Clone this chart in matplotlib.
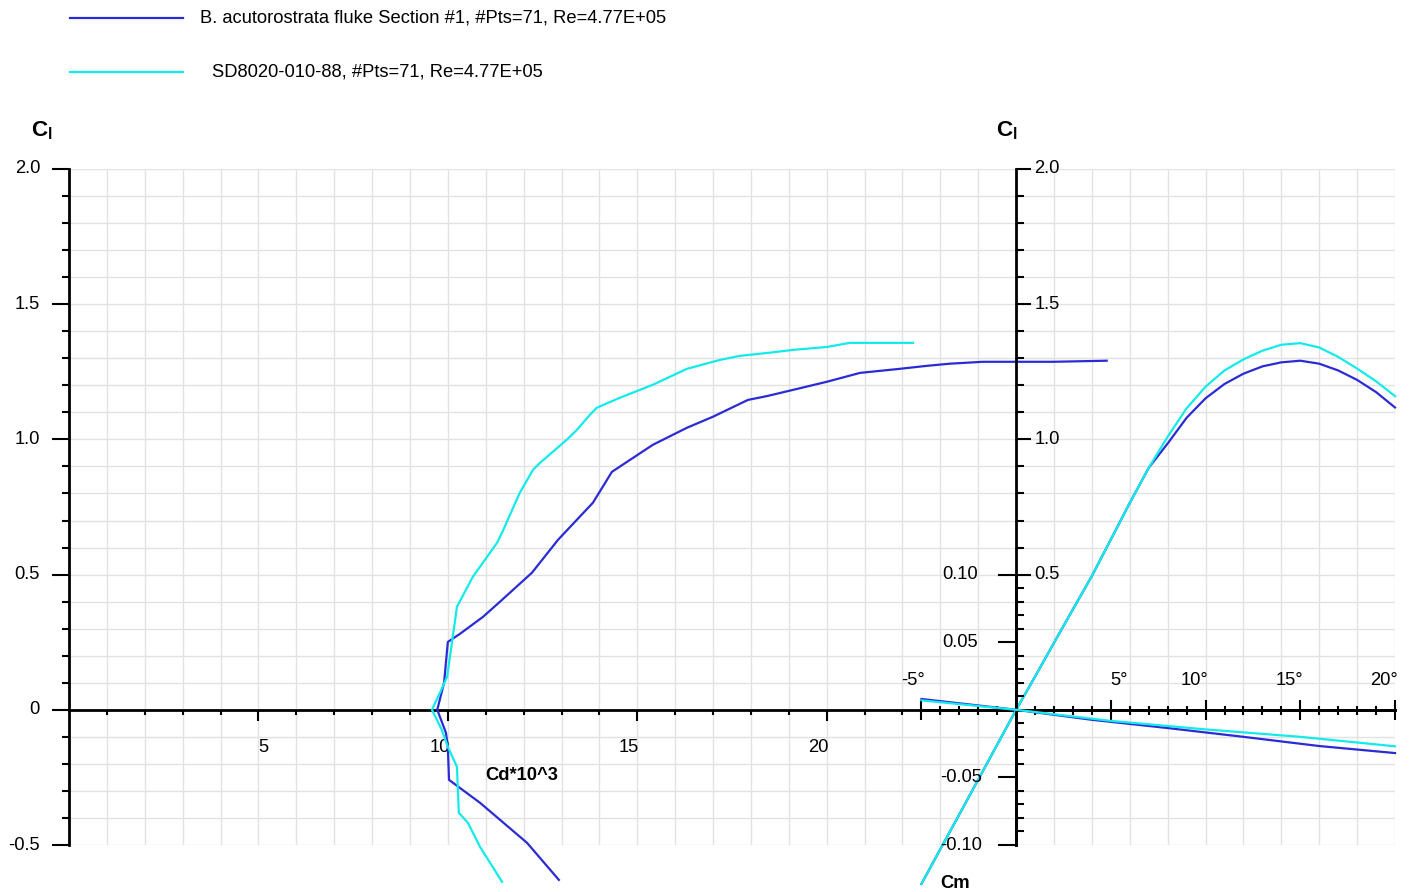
import numpy as np
import matplotlib
matplotlib.use('Agg')
import matplotlib.pyplot as plt
from matplotlib import font_manager
from matplotlib.lines import Line2D

# =============================================================================
# DATA
# =============================================================================
name_blue = 'B. acutorostrata fluke Section #1, #Pts=71, Re=4.77E+05'
name_cyan = 'SD8020-010-88, #Pts=71, Re=4.77E+05'

# polar Cl vs Cd*10^3
cd_blue = [12.93, 12.09, 10.85, 10.03, 10.00, 9.95, 9.72, 9.90, 10.00, 10.32, 10.93,
           11.37, 12.22, 12.91, 13.83, 14.33, 15.41, 16.31, 17.00, 17.92, 18.45,
           20.00, 20.88, 21.93, 22.64, 23.25, 24.12, 25.02, 25.97, 27.39]
cl_blue_p = [-0.629, -0.492, -0.344, -0.259, -0.137, -0.085, 0.0, 0.100, 0.251, 0.281, 0.344,
             0.399, 0.507, 0.629, 0.766, 0.880, 0.980, 1.043, 1.084, 1.146, 1.161,
             1.213, 1.246, 1.261, 1.272, 1.280, 1.287, 1.287, 1.287, 1.291]

cd_cyan = [11.43, 10.85, 10.53, 10.29, 10.24, 10.00, 9.84, 9.58, 9.79, 9.98, 10.13,
           10.24, 10.66, 11.30, 11.43, 11.90, 12.25, 12.43, 13.14, 13.41, 13.75,
           13.93, 14.54, 15.41, 16.31, 17.18, 17.71, 18.45, 19.11, 20.01, 20.61, 22.28]
cl_cyan_p = [-0.636, -0.507, -0.418, -0.381, -0.211, -0.137, -0.074, 0.0, 0.063, 0.122, 0.270,
             0.381, 0.492, 0.618, 0.655, 0.803, 0.888, 0.913, 0.999, 1.036, 1.091,
             1.117, 1.154, 1.202, 1.261, 1.294, 1.309, 1.320, 1.331, 1.342, 1.357, 1.357]

# Cl vs alpha
alpha = [-5, -4, -3, -2, -1, 0, 1, 2, 3, 4, 5, 6, 7, 8, 9, 10, 11, 12, 13, 14, 15, 16, 17, 18, 19, 20]
cl_blue = [-0.644, -0.515, -0.387, -0.258, -0.129, 0.0, 0.123, 0.248, 0.372, 0.495, 0.630,
           0.765, 0.895, 0.985, 1.080, 1.152, 1.205, 1.243, 1.270, 1.285, 1.291, 1.280,
           1.255, 1.220, 1.175, 1.118]
cl_cyan = [-0.644, -0.515, -0.387, -0.258, -0.129, 0.0, 0.123, 0.248, 0.372, 0.495, 0.630,
           0.765, 0.895, 1.010, 1.115, 1.195, 1.255, 1.296, 1.328, 1.350, 1.356, 1.340,
           1.305, 1.262, 1.215, 1.160]

# Cm vs alpha
alpha_cm_blue = [-5, 0, 4, 8, 12, 16, 20]
cm_blue = [0.008, 0.0, -0.0074, -0.0135, -0.0200, -0.0268, -0.0320]
alpha_cm_cyan = [-5, 0, 5, 10, 15, 20]
cm_cyan = [0.007, 0.0, -0.0082, -0.0145, -0.0200, -0.0270]

cl_ticks = [-0.5, 0, 0.5, 1.0, 1.5, 2.0]
cl_tick_labels = ['-0.5', '0', '0.5', '1.0', '1.5', '2.0']
cd_ticks = [5, 10, 15, 20]
alpha_ticks = [-5, 5, 10, 15, 20]
cm_ticks = [0.10, 0.05, -0.05, -0.10]
cm_tick_labels = ['0.10', '0.05', '-0.05', '-0.10']

# =============================================================================
# STYLE
# =============================================================================
W, H = 1415, 892
BLUE = '#2b2bd6'
CYAN = '#14eaea'
GRID = '#e2e2e2'
AX_LW = 2.0
TK_W = 1.5

names = {f.name for f in font_manager.fontManager.ttflist}
if 'Liberation Sans Narrow' in names:
    FONT, FS = 'Liberation Sans Narrow', 16
else:
    FONT, FS = 'Liberation Sans', 13.2
plt.rcParams['font.family'] = [FONT, 'DejaVu Sans']
plt.rcParams['mathtext.fontset'] = 'custom'
plt.rcParams['mathtext.rm'] = FONT
plt.rcParams['mathtext.bf'] = FONT + ':bold'

def pt(px):
    return px * 72.0 / 100.0

fig = plt.figure(figsize=(W / 100, H / 100), dpi=100)
pos = [69 / W, (H - 845) / H, (1395 - 69) / W, (845 - 169) / H]

ax = fig.add_axes(pos)      # Cl vs Cd
ax_a = fig.add_axes(pos)    # Cl vs alpha
ax_m = fig.add_axes(pos)    # Cm vs alpha
for a in (ax_a, ax_m):
    a.patch.set_visible(False)

ax.set_xlim(0, 35)
ax.set_ylim(-0.5, 2.0)
ax_a.set_xlim(-50, 20)
ax_a.set_ylim(-0.5, 2.0)
ax_m.set_xlim(-50, 20)
ax_m.set_ylim(-0.1, 0.4)

# grid
for x in np.arange(1, 36):
    ax.axvline(x, color=GRID, lw=1, zorder=0)
for y in np.arange(-0.5, 2.001, 0.1):
    ax.axhline(y, color=GRID, lw=1, zorder=0)

for a in (ax, ax_a, ax_m):
    for s in a.spines.values():
        s.set_visible(False)
    a.tick_params(which='both', labelleft=False, labelbottom=False, width=TK_W, color='black')

# left Cl axis + Cd axis
ax.spines['left'].set_visible(True)
ax.spines['left'].set_linewidth(AX_LW)
ax.spines['bottom'].set_visible(True)
ax.spines['bottom'].set_position(('data', 0))
ax.spines['bottom'].set_linewidth(AX_LW)
ax.set_yticks(cl_ticks)
ax.set_yticks(np.arange(-0.5, 2.001, 0.1), minor=True)
ax.set_xticks(cd_ticks)
ax.set_xticks(np.arange(1, 26), minor=True)
ax.tick_params(axis='y', which='major', direction='out', length=pt(17))
ax.tick_params(axis='y', which='minor', direction='out', length=pt(7))
ax.tick_params(axis='x', which='major', direction='out', length=pt(11))
ax.tick_params(axis='x', which='minor', direction='out', length=pt(5))

# right Cl axis + alpha axis
ax_a.spines['left'].set_visible(True)
ax_a.spines['left'].set_position(('data', 0))
ax_a.spines['left'].set_linewidth(AX_LW)
ax_a.spines['bottom'].set_visible(True)
ax_a.spines['bottom'].set_position(('data', 0))
ax_a.spines['bottom'].set_bounds(-5, 20)
ax_a.spines['bottom'].set_linewidth(AX_LW)
ax_a.set_yticks([0.5, 1.0, 1.5, 2.0])
ax_a.set_yticks([v for v in np.arange(0.6, 2.0, 0.1) if abs(v * 2 - round(v * 2)) > 1e-6], minor=True)
ax_a.set_xticks(alpha_ticks)
ax_a.set_xticks(np.arange(-5, 21), minor=True)
ax_a.tick_params(axis='y', which='major', direction='in', length=pt(15))
ax_a.tick_params(axis='y', which='minor', direction='in', length=pt(8))
ax_a.tick_params(axis='x', which='major', direction='inout', length=pt(20))
ax_a.tick_params(axis='x', which='minor', direction='inout', length=pt(9))

# Cm axis
ax_m.spines['left'].set_visible(True)
ax_m.spines['left'].set_position(('data', 0))
ax_m.spines['left'].set_bounds(-0.1, 0.1)
ax_m.spines['left'].set_linewidth(AX_LW)
ax_m.set_yticks(cm_ticks)
ax_m.set_yticks(np.arange(-0.1, 0.1001, 0.01), minor=True)
ax_m.set_xticks([])
ax_m.tick_params(axis='y', which='major', direction='out', length=pt(18))
ax_m.tick_params(axis='y', which='minor', direction='in', length=pt(8))

# curves
lw = 1.6
ax.plot(cd_blue, cl_blue_p, color=BLUE, lw=lw, clip_on=False, zorder=5)
ax.plot(cd_cyan, cl_cyan_p, color=CYAN, lw=lw, clip_on=False, zorder=5)
ax_a.plot(alpha, cl_blue, color=BLUE, lw=lw, clip_on=False, zorder=5)
ax_a.plot(alpha, cl_cyan, color=CYAN, lw=lw, clip_on=False, zorder=6)
ax_m.plot(alpha_cm_blue, cm_blue, color=BLUE, lw=lw, clip_on=False, zorder=5)
ax_m.plot(alpha_cm_cyan, cm_cyan, color=CYAN, lw=lw, clip_on=False, zorder=6)

# tick labels
tk = dict(fontsize=FS, textcoords='offset pixels', annotation_clip=False)
for v, s in zip(cl_ticks, cl_tick_labels):
    ax.annotate(s, (0, v), xytext=(-29, 0), ha='right', va='center', **tk)
for v, s in zip([0.5, 1.0, 1.5, 2.0], ['0.5', '1.0', '1.5', '2.0']):
    ax_a.annotate(s, (0, v), xytext=(18, 0), ha='left', va='center', **tk)
for v, s in zip(cm_ticks, cm_tick_labels):
    ax_m.annotate(s, (0, v), xytext=(-38 if v > 0 else -34, 0), ha='right', va='center', **tk)
for v in cd_ticks:
    if v < 10:
        ax.annotate(str(v), (v, 0), xytext=(0, -38), ha='left', va='center', **tk)
    else:
        ax.annotate(str(v), (v, 0), xytext=(2, -38), ha='right', va='center', **tk)
for v in alpha_ticks:
    if 0 < v < 10:
        ax_a.annotate('%d°' % v, (v, 0), xytext=(-1, 29), ha='left', va='center', **tk)
    else:
        ax_a.annotate('%d°' % v, (v, 0), xytext=(3, 29), ha='right', va='center', **tk)

def ftext(x, y, s, **kw):
    fig.text(x / W, 1 - y / H, s, fontsize=kw.pop('fontsize', FS), **kw)

ftext(485, 775, 'Cd*10^3', weight='bold', ha='left', va='center')
ftext(940, 884, 'Cm', weight='bold', ha='left', va='center')
for cx in (31, 996):
    ftext(cx, 131, r'$\mathbf{C}_{\mathbf{l}}$', fontsize=FS + 3, ha='left', va='center')

# legend
for y, c, tx, s in [(18, BLUE, 200, name_blue), (72, CYAN, 212, name_cyan)]:
    fig.add_artist(Line2D([70 / W, 183 / W], [1 - y / H, 1 - y / H], color=c, lw=1.6))
    ftext(tx, y, s, ha='left', va='center')

fig.savefig('out.png', dpi=100, facecolor='white')
